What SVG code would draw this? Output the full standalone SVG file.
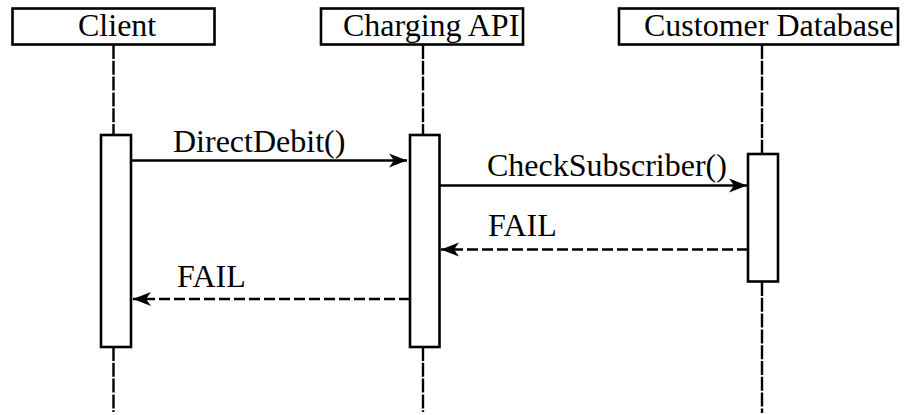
<svg xmlns="http://www.w3.org/2000/svg" width="904" height="415" viewBox="0 0 904 415">
<style>
.head{fill:#fff;stroke:#000;stroke-width:2.6}
.act{fill:#fff;stroke:#000;stroke-width:2.6}
.life{stroke:#000;stroke-width:2.4;stroke-dasharray:14,1.8;fill:none}
.msg{stroke:#000;stroke-width:2.5;fill:none}
.ret{stroke:#000;stroke-width:2.5;fill:none;stroke-dasharray:11,4}
text{font-family:"Liberation Serif","Times New Roman",serif;font-size:32px;fill:#000}
</style>
<defs>
<marker id="arr" markerUnits="userSpaceOnUse" markerWidth="19" markerHeight="15" refX="18" refY="7.5" orient="auto">
<path d="M0,0.5 L18,7.5 L0,14.5 L5,7.5 z" fill="#000"/>
</marker>
</defs>
<g id="lifelines">
<line class="life" x1="113.5" y1="45" x2="113.5" y2="135"/>
<line class="life" x1="113.5" y1="347" x2="113.5" y2="412"/>
<line class="life" x1="423" y1="45" x2="423" y2="135"/>
<line class="life" x1="423" y1="347" x2="423" y2="412"/>
<line class="life" x1="762" y1="45" x2="762" y2="154"/>
<line class="life" x1="762" y1="282" x2="762" y2="413"/>
</g>
<g id="client">
<rect class="head" x="12.5" y="8.5" width="202" height="36"/>
<text x="78" y="36">Client</text>
<rect class="act" x="101" y="135" width="30" height="212"/>
</g>
<g id="charging-api">
<rect class="head" x="321" y="8.5" width="202" height="36"/>
<text x="343" y="36">Charging API</text>
<rect class="act" x="410" y="135" width="29.5" height="212"/>
</g>
<g id="customer-database">
<rect class="head" x="619" y="8.5" width="279" height="36"/>
<text x="644" y="36">Customer Database</text>
<rect class="act" x="748" y="154" width="30" height="127.5"/>
</g>
<g id="connectors">
<line class="msg" x1="131" y1="160.5" x2="407" y2="160.5" marker-end="url(#arr)"/>
<text x="173" y="152">DirectDebit()</text>
<line class="msg" x1="439.5" y1="185.5" x2="747" y2="185.5" marker-end="url(#arr)"/>
<text x="487" y="176">CheckSubscriber()</text>
<line class="ret" x1="748" y1="249.5" x2="441" y2="249.5" marker-end="url(#arr)"/>
<text x="488" y="236">FAIL</text>
<line class="ret" x1="410" y1="299" x2="133" y2="299" marker-end="url(#arr)"/>
<text x="177" y="287">FAIL</text>
</g>
</svg>
